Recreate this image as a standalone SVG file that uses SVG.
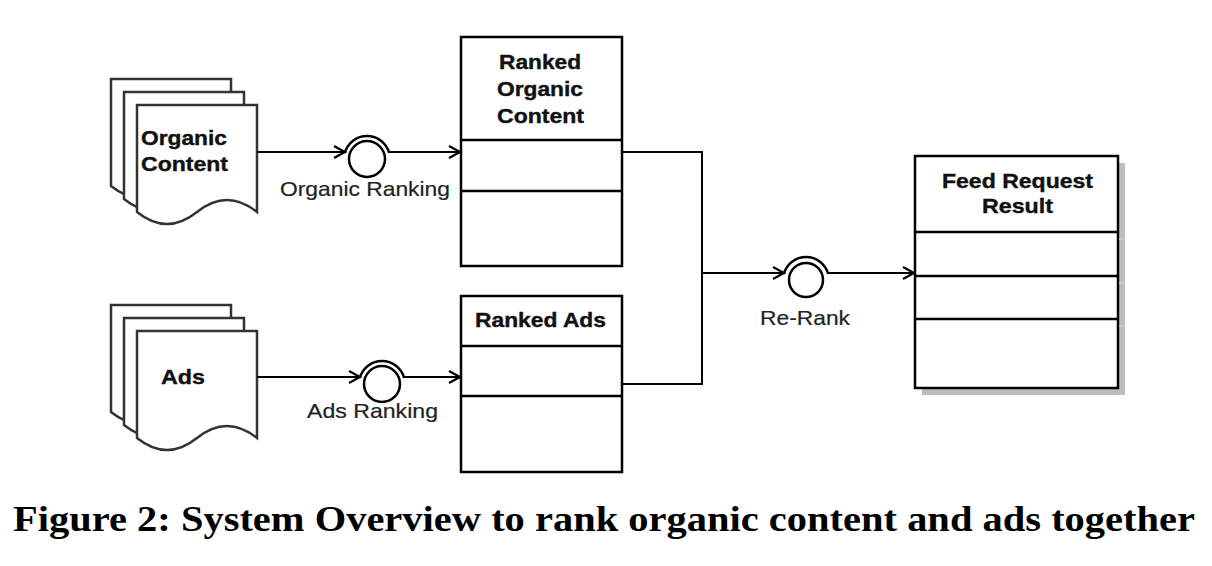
<svg xmlns="http://www.w3.org/2000/svg" xmlns:xlink="http://www.w3.org/1999/xlink" width="1212" height="566" viewBox="0 0 1212 566">
<style>
.doc{fill:#fff;stroke:#333;stroke-width:2.5}
.box{fill:#fff;stroke:#000;stroke-width:2.5}
.div{stroke:#000;stroke-width:2.5}
.con{fill:none;stroke:#000;stroke-width:2}
.ifc{fill:#fff;stroke:#000;stroke-width:2.5}
.bt{font-family:"Liberation Sans",Arial,sans-serif;font-weight:bold;font-size:21px;fill:#111;stroke:#111;stroke-width:0.4}
.lt{font-family:"Liberation Sans",Arial,sans-serif;font-size:21px;fill:#222;stroke:#222;stroke-width:0.2}
.cap{font-family:"Liberation Serif","Times New Roman",serif;font-weight:bold;font-size:35px;fill:#000}
</style>
<defs>
<path id="docshape" d="M0,0 L120,0 L120,107 Q90,83 60,107 Q30,131 0,107 Z"/>
<marker id="open" markerUnits="userSpaceOnUse" markerWidth="16" markerHeight="16" refX="13" refY="8" orient="auto">
<path d="M2,2 L13,8 L2,14" fill="none" stroke="#000" stroke-width="2.2"/>
</marker>
</defs>
<rect width="1212" height="566" fill="#fff"/>

<g id="organic-content">
<use xlink:href="#docshape" class="doc" transform="translate(111,79)"/>
<use xlink:href="#docshape" class="doc" transform="translate(124,92)"/>
<use xlink:href="#docshape" class="doc" transform="translate(137,105)"/>
<text class="bt" x="141" y="145" textLength="86" lengthAdjust="spacingAndGlyphs">Organic</text>
<text class="bt" x="141" y="171" textLength="87" lengthAdjust="spacingAndGlyphs">Content</text>
</g>

<g id="ads">
<use xlink:href="#docshape" class="doc" transform="translate(111,305)"/>
<use xlink:href="#docshape" class="doc" transform="translate(124,318)"/>
<use xlink:href="#docshape" class="doc" transform="translate(137,331)"/>
<text class="bt" x="161" y="384" textLength="44" lengthAdjust="spacingAndGlyphs">Ads</text>
</g>

<g id="ranked-organic-content">
<rect class="box" x="461" y="37" width="161" height="229"/>
<line class="div" x1="461" y1="140" x2="622" y2="140"/>
<line class="div" x1="461" y1="191" x2="622" y2="191"/>
<text class="bt" x="499" y="69" textLength="82" lengthAdjust="spacingAndGlyphs">Ranked</text>
<text class="bt" x="497" y="96" textLength="86" lengthAdjust="spacingAndGlyphs">Organic</text>
<text class="bt" x="497" y="123" textLength="87" lengthAdjust="spacingAndGlyphs">Content</text>
</g>

<g id="ranked-ads">
<rect class="box" x="461" y="296" width="161" height="176"/>
<line class="div" x1="461" y1="346" x2="622" y2="346"/>
<line class="div" x1="461" y1="396" x2="622" y2="396"/>
<text class="bt" x="475" y="327" textLength="131" lengthAdjust="spacingAndGlyphs">Ranked Ads</text>
</g>

<g id="feed-request-result">
<rect x="922" y="163" width="203" height="232" fill="#bdbdbd"/>
<rect class="box" x="915" y="156" width="203" height="232"/>
<line class="div" x1="915" y1="232" x2="1118" y2="232"/>
<line class="div" x1="915" y1="276" x2="1118" y2="276"/>
<line class="div" x1="915" y1="319" x2="1118" y2="319"/>
<line x1="1119" y1="239" x2="1125" y2="239" stroke="#ccc" stroke-width="1.5"/>
<line x1="1119" y1="283" x2="1125" y2="283" stroke="#ccc" stroke-width="1.5"/>
<line x1="1119" y1="326" x2="1125" y2="326" stroke="#ccc" stroke-width="1.5"/>
<text class="bt" x="942" y="188" textLength="151" lengthAdjust="spacingAndGlyphs">Feed Request</text>
<text class="bt" x="982" y="213" textLength="71" lengthAdjust="spacingAndGlyphs">Result</text>
</g>

<g id="organic-ranking">
<path class="ifc" d="M344.8,153 A23,23 0 0 1 389.2,153"/>
<circle class="ifc" cx="367" cy="159" r="18"/>
<text class="lt" x="280" y="196" textLength="170" lengthAdjust="spacingAndGlyphs">Organic Ranking</text>
</g>

<g id="ads-ranking">
<path class="ifc" d="M359.8,378 A23,23 0 0 1 404.2,378"/>
<circle class="ifc" cx="382" cy="384" r="18"/>
<text class="lt" x="307" y="418" textLength="131" lengthAdjust="spacingAndGlyphs">Ads Ranking</text>
</g>

<g id="re-rank">
<path class="ifc" d="M783.8,274 A23,23 0 0 1 828.2,274"/>
<circle class="ifc" cx="806" cy="280" r="17"/>
<text class="lt" x="760" y="325" textLength="90" lengthAdjust="spacingAndGlyphs">Re-Rank</text>
</g>

<g id="connectors">
<line class="con" x1="257" y1="152" x2="345" y2="152" marker-end="url(#open)"/>
<line class="con" x1="389" y1="152" x2="460" y2="152" marker-end="url(#open)"/>
<line class="con" x1="257" y1="377" x2="360" y2="377" marker-end="url(#open)"/>
<line class="con" x1="404" y1="377" x2="460" y2="377" marker-end="url(#open)"/>
<polyline class="con" points="622,152 702,152 702,384 622,384"/>
<line class="con" x1="702" y1="273" x2="784" y2="273" marker-end="url(#open)"/>
<line class="con" x1="828" y1="273" x2="914" y2="273" marker-end="url(#open)"/>
</g>

<text class="cap" x="13" y="531" textLength="1182" lengthAdjust="spacingAndGlyphs">Figure 2: System Overview to rank organic content and ads together</text>
</svg>
